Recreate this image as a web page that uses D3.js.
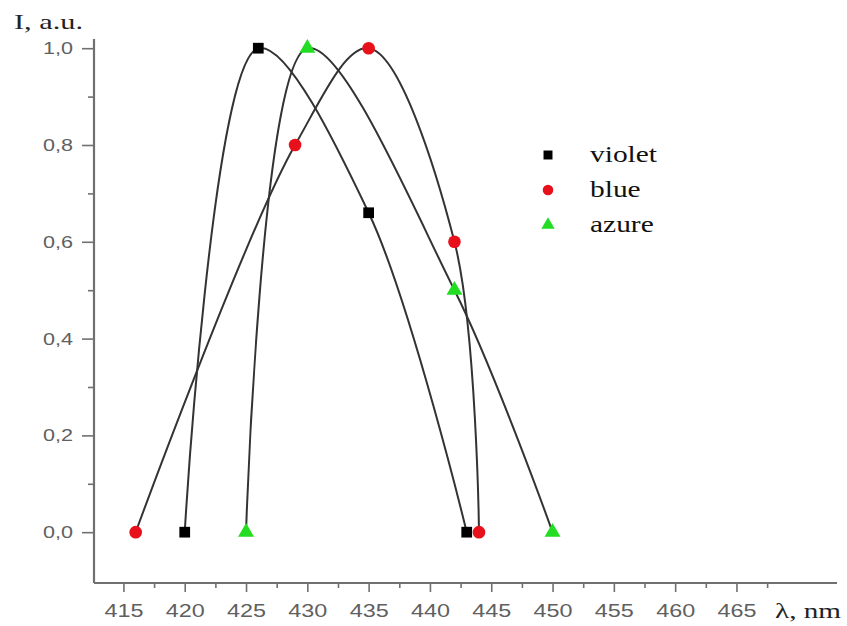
<!DOCTYPE html>
<html><head><meta charset="utf-8">
<script src="https://cdn.jsdelivr.net/npm/d3@7"></script>
<style>body{margin:0;background:#fff}</style>
</head><body>
<svg id="c" width="847" height="626"></svg>
<script>
const seriesNames = ["violet", "blue", "azure"];
const violetX = [420, 426, 435, 443];
const violetY = [0, 1.0, 0.66, 0];
const blueX = [416, 429, 435, 442, 444];
const blueY = [0, 0.8, 1.0, 0.6, 0];
const azureX = [425, 430, 442, 450];
const azureY = [0, 1.0, 0.5, 0];
const xTicks = [415, 420, 425, 430, 435, 440, 445, 450, 455, 460, 465];
const xMinor = [417.5, 422.5, 427.5, 432.5, 437.5, 442.5, 447.5, 452.5, 457.5, 462.5, 467.5];
const yTicks = [0, 0.2, 0.4, 0.6, 0.8, 1.0];
const yMinor = [0.1, 0.3, 0.5, 0.7, 0.9];

const svg = d3.select("#c");
const x = d3.scaleLinear().domain([412.6, 473.2]).range([94, 837]);
const y = d3.scaleLinear().domain([-0.105, 1.019]).range([583, 39]);
const axisColor = "#707070";
const fmt = d => d3.format(".1f")(d).replace(".", ",");

const gx = svg.append("g").attr("transform", `translate(0,${y.range()[0]})`);
gx.call(d3.axisBottom(x).tickValues(xMinor).tickSize(5).tickFormat(""));
gx.call(g => g.select(".domain").remove());
const gx2 = svg.append("g").attr("transform", `translate(0,${y.range()[0]})`);
gx2.call(d3.axisBottom(x).tickValues(xTicks).tickSize(9).tickPadding(12).tickFormat(d3.format("d")));
gx2.select(".domain").attr("d", `M${x.range()[0]},0H${x.range()[1]}`);

const gy = svg.append("g").attr("transform", `translate(${x.range()[0]},0)`);
gy.call(d3.axisLeft(y).tickValues(yMinor).tickSize(6).tickFormat(""));
gy.call(g => g.select(".domain").remove());
const gy2 = svg.append("g").attr("transform", `translate(${x.range()[0]},0)`);
gy2.call(d3.axisLeft(y).tickValues(yTicks).tickSize(12).tickPadding(9).tickFormat(fmt));
gy2.select(".domain").attr("d", `M0,${y.range()[1]}V${y.range()[0]}`);

svg.selectAll(".domain").attr("stroke", axisColor).attr("stroke-width", 2.2);
svg.selectAll(".tick line").attr("stroke", axisColor).attr("stroke-width", 1.6);
gx2.selectAll(".tick text").attr("font-family", "Arial, 'Liberation Sans', sans-serif")
  .attr("font-size", 18).attr("fill", "#606060").attr("textLength", 39).attr("lengthAdjust", "spacingAndGlyphs");
gy2.selectAll(".tick text").attr("font-family", "Arial, 'Liberation Sans', sans-serif")
  .attr("font-size", 17).attr("fill", "#606060").attr("textLength", 30).attr("lengthAdjust", "spacingAndGlyphs");

const serif = "'Liberation Serif', 'Times New Roman', serif";
svg.append("text").attr("x", 14).attr("y", 29).attr("font-family", serif)
  .attr("font-size", 22).attr("fill", "#222").attr("textLength", 69).attr("lengthAdjust", "spacingAndGlyphs").text("I, a.u.");
svg.append("text").attr("x", 775).attr("y", 618).attr("font-family", serif)
  .attr("font-size", 22).attr("fill", "#222").attr("textLength", 66).attr("lengthAdjust", "spacingAndGlyphs").text("λ, nm");

const series = [
  {name: seriesNames[0], xs: violetX, ys: violetY, color: "#000000", shape: d3.symbolSquare, size: 115},
  {name: seriesNames[1], xs: blueX, ys: blueY, color: "#e8101a", shape: d3.symbolCircle, size: 125},
  {name: seriesNames[2], xs: azureX, ys: azureY, color: "#22dd22", shape: d3.symbolTriangle, size: 110}
];

const line = d3.line().x(d => x(d[0])).y(d => y(d[1])).curve(d3.curveCatmullRom.alpha(0.5));
series.forEach(s => {
  const pts = s.xs.map((v, i) => [v, s.ys[i]]);
  svg.append("path").attr("d", line(pts)).attr("fill", "none").attr("stroke", "#333").attr("stroke-width", 2);
});
series.forEach(s => {
  const pts = s.xs.map((v, i) => [v, s.ys[i]]);
  svg.append("g").selectAll("path").data(pts).join("path")
    .attr("transform", d => `translate(${x(d[0])},${y(d[1])})`)
    .attr("d", d3.symbol().type(s.shape).size(s.size)).attr("fill", s.color);
});

const leg = svg.append("g");
series.forEach((s, i) => {
  const yy = 155 + i * 35;
  leg.append("path").attr("transform", `translate(548,${yy})`).attr("d", d3.symbol().type(s.shape).size(s.size * 0.7)).attr("fill", s.color);
  const t = leg.append("text").attr("x", 590).attr("y", yy + 7).attr("font-family", serif)
    .attr("font-size", 23).attr("fill", "#111").text(s.name);
  const w = t.node().getComputedTextLength();
  t.attr("textLength", w * 1.28).attr("lengthAdjust", "spacingAndGlyphs");
});
</script>
</body></html>
